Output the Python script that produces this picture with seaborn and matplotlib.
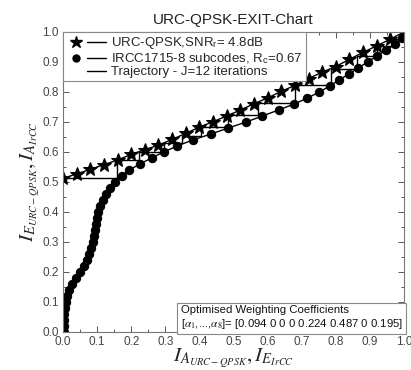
import numpy as np
import matplotlib
matplotlib.use('Agg')
import matplotlib.pyplot as plt
import seaborn as sns
from matplotlib.lines import Line2D
from matplotlib.legend_handler import HandlerTuple
from matplotlib.ticker import MultipleLocator

# ── Données ──────────────────────────────────────────────────────────────
urc_x = [0.00, 0.04, 0.08, 0.12, 0.16, 0.20, 0.24, 0.28, 0.32, 0.36, 0.40, 0.44, 0.48,
         0.52, 0.56, 0.60, 0.64, 0.68, 0.72, 0.76, 0.80, 0.84, 0.88, 0.92, 0.96, 1.00]
urc_y = [0.512, 0.527, 0.542, 0.558, 0.573, 0.592, 0.608, 0.623, 0.642, 0.662, 0.683, 0.701, 0.720,
         0.740, 0.761, 0.780, 0.802, 0.822, 0.845, 0.866, 0.885, 0.909, 0.932, 0.954, 0.976, 1.000]

ircc_y = [0.00, 0.02, 0.04, 0.06, 0.08, 0.10, 0.12, 0.14, 0.16, 0.18, 0.20, 0.22, 0.24, 0.26, 0.28,
          0.30, 0.32, 0.34, 0.36, 0.38, 0.40, 0.42, 0.44, 0.46, 0.48, 0.50, 0.52, 0.54, 0.56, 0.58,
          0.60, 0.62, 0.64, 0.66, 0.68, 0.70, 0.72, 0.74, 0.76, 0.78, 0.80, 0.82, 0.84, 0.86, 0.88,
          0.90, 0.92, 0.94, 0.96, 0.98]
ircc_x = [0.002, 0.003, 0.003, 0.004, 0.005, 0.008, 0.013, 0.018, 0.027, 0.039, 0.051, 0.062, 0.071,
          0.077, 0.082, 0.087, 0.091, 0.094, 0.097, 0.100, 0.104, 0.109, 0.117, 0.127, 0.139, 0.153,
          0.172, 0.195, 0.225, 0.260, 0.295, 0.335, 0.380, 0.434, 0.485, 0.537, 0.585, 0.632, 0.678,
          0.717, 0.752, 0.782, 0.810, 0.838, 0.866, 0.893, 0.920, 0.948, 0.975, 0.995]

traj_x = [0.0, 0.157, 0.224, 0.295, 0.350, 0.405, 0.483, 0.573, 0.680, 0.786, 0.862, 0.920, 0.970, 1.0]
traj_y = [0.512, 0.573, 0.600, 0.630, 0.655, 0.684, 0.722, 0.765, 0.823, 0.877, 0.920, 0.953, 0.978, 1.0]

labels = ['URC-QPSK,SNR$_\\mathregular{r}$= 4.8dB',
          'IRCC1715-8 subcodes, R$_\\mathregular{c}$=0.67',
          'Trajectory - J=12 iterations']
coef_text = ('Optimised Weighting Coefficients\n'
             '[$\\alpha_1$,...,$\\alpha_8$]= [0.094 0 0 0 0.224 0.487 0 0.195]')

# ── Figure ───────────────────────────────────────────────────────────────
sns.set_theme(style='ticks')
plt.rcParams['font.family'] = ['Liberation Sans', 'DejaVu Sans']
plt.rcParams['mathtext.fontset'] = 'stix'

fig = plt.figure(figsize=(4.11, 3.70), dpi=100)
ax = fig.add_axes([63/411, 38/370, 341/411, 300/370])

sns.lineplot(x=urc_x, y=urc_y, ax=ax, color='black', lw=1, marker='*', markersize=10.5,
             markeredgecolor='black', sort=False, estimator=None)
sns.lineplot(x=ircc_x, y=ircc_y, ax=ax, color='black', lw=1, marker='o', markersize=6,
             markeredgecolor='black', sort=False, estimator=None)
ax.step(traj_x, traj_y, where='post', color='black', lw=1)

ax.set_xlim(0, 1)
ax.set_ylim(0, 1)
ax.xaxis.set_major_locator(MultipleLocator(0.1))
ax.yaxis.set_major_locator(MultipleLocator(0.1))
ax.xaxis.set_minor_locator(MultipleLocator(0.05))
ax.yaxis.set_minor_locator(MultipleLocator(0.05))
ax.tick_params(which='both', direction='in', top=True, right=True, labelsize=8.5,
               labelcolor='#444444', color='#555555', width=0.7, pad=3)
ax.tick_params(which='major', length=4)
ax.tick_params(which='minor', length=2)
for s in ax.spines.values():
    s.set_color('#777777')
    s.set_linewidth(0.8)

ax.set_title('URC-QPSK-EXIT-Chart', fontsize=11, color='#222222', pad=6)
ax.set_xlabel('$I_{A_{URC-QPSK}}, I_{E_{IrCC}}$', fontsize=15, labelpad=-1)
ax.set_ylabel('$I_{E_{URC-QPSK}}, I_{A_{IrCC}}$', fontsize=15, labelpad=0)

h_star = (Line2D([], [], ls='none', marker='*', color='black', markersize=9),
          Line2D([], [], color='black', lw=1))
h_dot = (Line2D([], [], ls='none', marker='o', color='black', markersize=5),
         Line2D([], [], color='black', lw=1))
h_traj = (Line2D([], [], ls='none'), Line2D([], [], color='black', lw=1))
leg = ax.legend([h_star, h_dot, h_traj], labels, loc='upper left', borderaxespad=0,
                handler_map={tuple: HandlerTuple(ndivide=2, pad=0.2)}, handlelength=3.0,
                handleheight=0.5, handletextpad=0.4, fontsize=9.5, frameon=True, fancybox=False,
                framealpha=1, edgecolor='#888888', labelspacing=0.0, borderpad=0.25)
leg.get_frame().set_linewidth(0.8)

ax.text(0.997, 0.004, coef_text, transform=ax.transAxes, ha='right', va='bottom',
        fontsize=8.2, multialignment='left', color='#111111',
        bbox=dict(boxstyle='square,pad=0.3', fc='white', ec='#888888', lw=0.8))

plt.savefig('out.png', dpi=100)
plt.close()
